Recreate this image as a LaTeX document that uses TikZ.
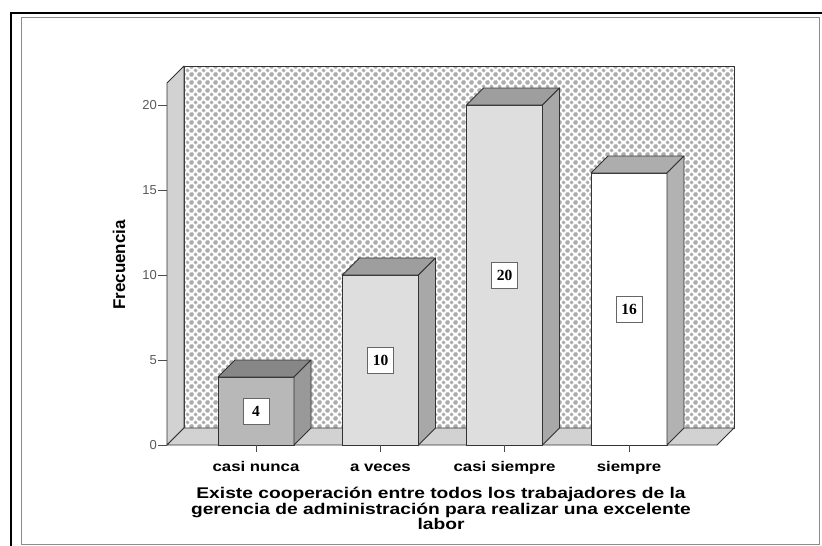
\documentclass[tikz,border=0pt]{standalone}
\usepackage{fontspec}
\setmainfont{Liberation Sans}
\newfontfamily\valuefont{Liberation Serif}
\newfontfamily\catfont[FakeStretch=1.2]{Liberation Sans}
\newfontfamily\titlefont[FakeStretch=1.24]{Liberation Sans}
\usetikzlibrary{patterns}

%% texture of the back wall
\pgfdeclarepatternformonly{walldiamonds}{\pgfpointorigin}{\pgfpoint{8pt}{8pt}}{\pgfpoint{8pt}{8pt}}{%
  \foreach \px/\py in {0/0,8/0,0/8,8/8,4/4}{%
    \pgfpathmoveto{\pgfpoint{\px pt-2.3pt}{\py pt}}%
    \pgfpathlineto{\pgfpoint{\px pt}{\py pt+2.3pt}}%
    \pgfpathlineto{\pgfpoint{\px pt+2.3pt}{\py pt}}%
    \pgfpathlineto{\pgfpoint{\px pt}{\py pt-2.3pt}}%
    \pgfpathclose}%
  \pgfusepath{fill}}

\begin{document}
\begin{tikzpicture}[x=1pt,y=-1pt,
    edge/.style={draw=black!80,line width=0.9pt,line join=round},
    valbox/.style={draw=black!60,fill=white,line width=0.8pt,minimum size=26pt,inner sep=1pt,
      font=\valuefont\fontsize{15.5}{15.5}\selectfont\bfseries},
    ticklab/.style={text=black!65,inner sep=0pt,font=\fontsize{13}{13}\selectfont},
    catlab/.style={inner sep=0pt,font=\catfont\fontsize{14}{14}\selectfont\bfseries}]
    \useasboundingbox (0,0) rectangle (822,546);
    \def\base{445}
    \def\unit{17}
    \def\dep{17}
    %% frame
    \draw[black!45,line width=0.7pt] (21,17) rectangle (819,544);
    \draw[line width=2.6pt] (11,546) -- (11,13) -- (822,13);
    %% walls and floor
    \fill[white] (184,66) rectangle (734,428);
    \fill[pattern=walldiamonds,pattern color=black!32] (184,66) rectangle (734,428);
    \draw[edge] (184,66) rectangle (734,428);
    \draw[edge,fill=gray!35] (167,\base) -- (167,83) -- (184,66) -- (184,428) -- cycle;
    \draw[edge,fill=gray!35] (167,\base) -- (184,428) -- (734,428) -- (717,\base) -- cycle;
    %% y axis
    \foreach \t in {0,5,...,20}
        \draw[black!70] (167,\base-\unit*\t) -- (158,\base-\unit*\t)
            node[ticklab,anchor=east,xshift=-1pt] (tick\t) {\t};
    %% bars
    \foreach \i/\cx/\v/\cf/\ct/\cs/\lab in {1/256/4/56/94/80/casi nunca,
                                           2/380.5/10/26/76/68/a veces,
                                           3/504.5/20/26/76/68/casi siempre,
                                           4/629/16/0/64/60/siempre}{
        \pgfmathsetmacro\bartop{\base-\unit*\v}
        \draw[edge,fill=gray!\cf] (\cx-38,\base) rectangle (\cx+38,\bartop);
        \draw[edge,fill=gray!\ct] (\cx-38,\bartop) -- ++(\dep,-\dep) -- ++(76,0) -- (\cx+38,\bartop) -- cycle;
        \draw[edge,fill=gray!\cs] (\cx+38,\base) -- ++(\dep,-\dep) -- (\cx+38+\dep,\bartop-\dep) -- (\cx+38,\bartop) -- cycle;
        \node[valbox] (val\i) at (\cx,\base-\unit*\v/2) {\v};
        \draw[black!70] (\cx,\base) -- (\cx,\base+7);
        \node[catlab,anchor=base] (cat\i) at (\cx,471) {\lab};
    }
    %% axis titles
    \node[rotate=90,font=\fontsize{17}{17}\selectfont\bfseries] (ytitle) at (119,265) {Frecuencia};
    \node[align=center,anchor=north,inner sep=0pt,font=\titlefont\fontsize{15.5}{13.5}\selectfont\bfseries]
        (xtitle) at (441,487) {Existe cooperación entre todos los trabajadores de la\\
        gerencia de administración para realizar una excelente\\labor};
\end{tikzpicture}
\end{document}
